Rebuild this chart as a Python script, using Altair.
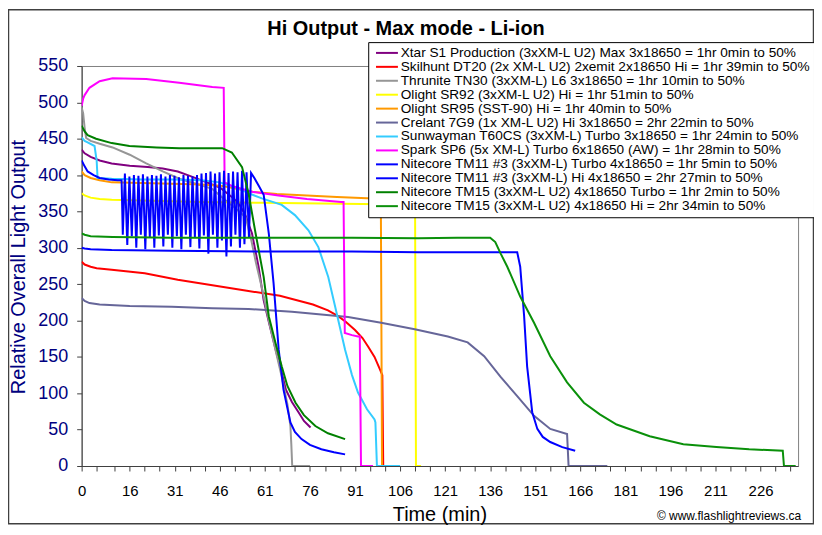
import altair as alt
import pandas as pd

FONT = "Liberation Sans"

TITLE = "Hi Output - Max mode - Li-ion"
X_TITLE = "Time (min)"
Y_TITLE = "Relative Overall Light Output"
CREDIT = "\u00a9 www.flashlightreviews.ca"

NAMES = [
    "Xtar S1 Production (3xXM-L U2) Max 3x18650 = 1hr 0min to 50%",
    "Skilhunt DT20 (2x XM-L U2) 2xemit 2x18650 Hi = 1hr 39min to 50%",
    "Thrunite TN30 (3xXM-L) L6 3x18650 = 1hr 10min to 50%",
    "Olight SR92 (3xXM-L U2) Hi = 1hr 51min to 50%",
    "Olight SR95 (SST-90) Hi = 1hr 40min to 50%",
    "Crelant 7G9 (1x XM-L U2) Hi 3x18650 = 2hr 22min to 50%",
    "Sunwayman T60CS (3xXM-L) Turbo 3x18650 = 1hr 24min to 50%",
    "Spark SP6 (5x XM-L) Turbo 6x18650 (AW) = 1hr 28min to 50%",
    "Nitecore TM11 #3 (3xXM-L) Turbo 4x18650 = 1hr 5min to 50%",
    "Nitecore TM11 #3 (3xXM-L) Hi 4x18650 = 2hr 27min to 50%",
    "Nitecore TM15 (3xXM-L U2) 4x18650 Turbo = 1hr 2min to 50%",
    "Nitecore TM15 (3xXM-L U2) 4x18650 Hi = 2hr 34min to 50%",
]
COLORS = ["#800080", "#FF0000", "#969696", "#FFFF00", "#FF9900", "#666699",
          "#33CCFF", "#FF00FF", "#0000FF", "#0000FF", "#008000", "#0A900A"]

T_XTAR = [0, 1, 3, 6, 10, 16, 22, 27, 32, 36, 41, 46, 50, 52.3, 54.5, 56.7, 58.9, 60.6, 62.5, 64.6, 66.5, 68, 70, 72.2, 74, 76.2]
V_XTAR = [435, 430, 425, 420, 416, 413, 411, 409, 405, 399, 391, 383, 370, 361, 345, 320, 274, 228, 195, 160, 130, 105, 88, 74, 62, 53]

T_DT20 = [0, 1, 3, 5, 10, 21, 32, 43, 55, 66, 77, 82, 85.4, 88, 91, 93.5, 95.4, 97.5, 99.3, 100.1, 100.4]
V_DT20 = [281, 277, 274, 272, 270, 265, 256, 249, 241, 234, 222, 214, 206, 198, 187, 176, 164, 150, 133, 125, 0]

T_TN30 = [0, 0.5, 1, 1.5, 3, 6, 10.3, 16, 21.5, 27, 32.5, 38, 43.5, 48, 51, 54.6, 56.5, 58, 60, 62.3, 64.5, 66.6, 68.5, 69.5, 69.8, 70.1, 76]
V_TN30 = [493, 485, 465, 451, 447, 443, 438, 428, 416, 405, 395, 388, 381, 365, 355, 342, 310, 280, 245, 200, 160, 123, 85, 55, 30, 0, 0]

T_SR92 = [0, 1, 3, 6, 10, 20, 30, 40, 60, 80, 100, 111.0, 111.3, 113]
V_SR92 = [375, 372, 369, 367, 366, 365, 364, 363, 362, 361, 360, 360, 0, 0]

T_SR95 = [0, 1, 3, 6, 10, 20, 30, 40, 47, 52, 57, 65, 75, 85, 95, 99.6, 100.0]
V_SR95 = [405, 400, 396, 393, 390, 389, 388, 387, 385, 381, 377, 374, 372, 370, 368, 368, 0]

T_7G9 = [0, 1, 2.6, 6, 16, 30, 43.5, 55.6, 70, 88.7, 99.7, 110.9, 121.9, 128.5, 134, 139.4, 145, 150.6, 156, 161.6, 162.1, 175]
V_7G9 = [231, 227, 224, 222, 220, 219, 217, 216, 212, 205, 197, 188, 178, 170, 151, 123, 96, 69, 51, 44, 0, 0]

T_T60 = [0, 1, 2, 4.3, 5.0, 5.3, 10, 20, 30, 40, 46, 52, 55.6, 60, 66.6, 71, 75.5, 78.8, 82.1, 84.4, 87.7, 90, 92, 95, 97.5, 97.8, 98.3, 106]
V_T60 = [452, 447, 445, 440, 420, 396, 395, 394, 394, 393, 390, 382, 375, 368, 359, 345, 324, 301, 260, 219, 160, 125, 101, 78, 64, 60, 0, 0]

T_SP6 = [0, 0.5, 1, 2.6, 6, 10.3, 21.5, 32.5, 43.5, 47.3, 47.6, 50, 56.7, 65.5, 75, 86.4, 87.2, 87.6, 90, 92, 92.6, 93, 97]
V_SP6 = [495, 505, 510, 520, 529, 533, 532, 527, 521, 520, 390, 385, 377, 372, 367, 363, 363, 183, 180, 178, 178, 0, 0]

T_TM11T = [0, 1, 2, 4, 6, 9, 12, 13.3,
           13.7, 14.4, 15.2, 15.9, 16.7, 17.4, 18.2, 18.9, 19.7, 20.4,
           21.2, 21.9, 22.7, 23.4, 24.2, 24.9, 25.7, 26.4, 27.2, 27.9,
           28.7, 29.4, 30.2, 30.9, 31.7, 32.4, 33.2, 33.9, 34.7, 35.4,
           36.2, 36.9, 37.7, 38.4, 39.2, 39.9, 40.7, 41.4, 42.2, 42.9,
           43.7, 44.4, 45.2, 45.9, 46.7, 47.4, 48.2, 48.9, 49.7, 50.4,
           51.2, 51.9, 52.7, 53.4, 54.2, 54.9, 55.7, 56.4,
           57.5, 59, 60.6, 62.3, 63.9, 65.6, 67.2, 69.5, 71, 73.2, 76, 79.8, 84, 87.7]
V_TM11T = [420, 412, 405, 400, 396, 394, 393, 393,
           318, 402, 304, 398, 316, 400, 300, 399, 318, 401,
           298, 398, 315, 400, 300, 399, 317, 401, 302, 398,
           318, 400, 300, 399, 316, 397, 298, 400, 318, 399,
           301, 398, 315, 400, 299, 402, 317, 403, 292, 405,
           318, 402, 300, 404, 310, 406, 288, 403, 302, 405,
           318, 404, 300, 406, 305, 404, 315, 403,
           396, 385, 373, 320, 251, 160, 105, 60, 47, 37, 29, 23, 19, 16]

T_TM11H = [0, 1, 3, 10, 30, 60, 90, 112, 130, 145, 146, 147.3, 148.3, 150, 151.7, 153.5, 156, 160, 164.3]
V_TM11H = [300, 299, 298, 297, 296, 295, 295, 294, 294, 294, 274, 206, 137, 74, 51, 40, 33, 26, 21]

T_TM15T = [0, 1, 2, 4.8, 10, 15.9, 25, 32.5, 40, 46.8, 50, 53.4, 55.6, 57.9, 60.6, 62.3, 64.5, 66.6, 68.5, 71.2, 74, 77.8, 82, 87.7]
V_TM15T = [468, 460, 455, 450, 444, 440, 438, 437, 437, 437, 431, 411, 374, 320, 260, 206, 170, 137, 110, 87, 70, 55, 45, 37]

T_TM15H = [0, 1, 3, 10.3, 30, 60, 90, 112, 125, 136, 137.7, 139.5, 141.7, 146, 150.6, 156, 161.6, 167.2, 172.5, 178.1, 189.1, 200.3, 211.3, 222.2, 233.4, 233.8, 237.7]
V_TM15H = [320, 318, 316, 315, 314, 314, 314, 313, 314, 314, 308, 292, 274, 233, 197, 151, 115, 87, 71, 57, 41, 30, 26, 23, 21, 0, 0]

X_LABELS = [0, 16, 31, 46, 61, 76, 91, 106, 121, 136, 151, 166, 181, 196, 211, 226]
X_TICKS = [0, 5, 11, 16, 21, 26, 31, 36, 41, 46, 51, 56, 61, 66, 71, 76, 81, 86, 91, 96,
           101, 106, 111, 116, 121, 126, 131, 136, 141, 146, 151, 156, 161, 166, 171,
           176, 181, 186, 191, 196, 201, 206, 211, 216, 221, 226, 231, 236]
Y_TICKS = [0, 50, 100, 150, 200, 250, 300, 350, 400, 450, 500, 550]

SERIES = [
    (NAMES[0], T_XTAR, V_XTAR), (NAMES[1], T_DT20, V_DT20), (NAMES[2], T_TN30, V_TN30),
    (NAMES[3], T_SR92, V_SR92), (NAMES[4], T_SR95, V_SR95), (NAMES[5], T_7G9, V_7G9),
    (NAMES[6], T_T60, V_T60), (NAMES[7], T_SP6, V_SP6), (NAMES[8], T_TM11T, V_TM11T),
    (NAMES[9], T_TM11H, V_TM11H), (NAMES[10], T_TM15T, V_TM15T), (NAMES[11], T_TM15H, V_TM15H),
]
rows = []
for name, ts, vs in SERIES:
    for i, (t, v) in enumerate(zip(ts, vs)):
        rows.append({"series": name, "t": t, "v": v, "idx": i})
df = pd.DataFrame(rows)

label_expr = "indexof([" + ",".join(str(v) for v in X_LABELS) + "], datum.value) >= 0 ? datum.label : ''"

lines = alt.Chart(df).mark_line(strokeWidth=2, clip=True).encode(
    x=alt.X("t:Q", scale=alt.Scale(domain=[0, 238.5], nice=False, zero=False),
            axis=alt.Axis(values=X_TICKS, labelExpr=label_expr, title=None, grid=False,
                          tickSize=5, labelFontSize=15, labelColor="black", labelFont=FONT,
                          labelPadding=13, labelOverlap=False, labelFlush=False,
                          domainColor="#404040", tickColor="#404040")),
    y=alt.Y("v:Q", scale=alt.Scale(domain=[0, 550], nice=False),
            axis=alt.Axis(values=Y_TICKS, title=None, grid=False, tickSize=5,
                          labelFontSize=18, labelColor="#000080", labelFont=FONT,
                          labelPadding=9, labelOverlap=False,
                          domainColor="#404040", tickColor="#404040")),
    color=alt.Color("series:N", sort=NAMES,
                    scale=alt.Scale(domain=NAMES, range=COLORS),
                    legend=alt.Legend(title=None, orient="none", legendX=288, legendY=-24,
                                      direction="vertical", symbolType="M-2,0L2,0",
                                      symbolSize=121, symbolStrokeWidth=2, symbolOffset=8,
                                      labelOffset=7, labelFont=FONT, labelFontSize=13.7,
                                      labelColor="black", labelLimit=600, rowPadding=-1,
                                      padding=4, strokeColor="black", fillColor="white",
                                      cornerRadius=0)),
    order=alt.Order("idx:Q"),
)

one = pd.DataFrame({"a": [0]})

border = alt.Chart(one).mark_rect(fillOpacity=0, stroke="#404040", strokeWidth=1.5).encode(
    x=alt.value(-73.5), x2=alt.value(735.5), y=alt.value(-56.5), y2=alt.value(460)
)
title = alt.Chart(one).mark_text(font=FONT, fontSize=20, fontWeight="bold", align="center",
                                 baseline="alphabetic", color="black").encode(
    x=alt.value(326), y=alt.value(-31), text=alt.value(TITLE))
credit = alt.Chart(one).mark_text(font=FONT, fontSize=12, align="right",
                                  baseline="alphabetic", color="black").encode(
    x=alt.value(723), y=alt.value(456), text=alt.value(CREDIT))
xtitle = alt.Chart(one).mark_text(font=FONT, fontSize=20, align="center",
                                  baseline="middle", color="black").encode(
    x=alt.value(360), y=alt.value(451), text=alt.value(X_TITLE))
ytitle = alt.Chart(one).mark_text(font=FONT, fontSize=20, align="center", angle=270,
                                  baseline="middle", color="#000080").encode(
    x=alt.value(-63), y=alt.value(202), text=alt.value(Y_TITLE))

chart = alt.layer(border, lines, title, credit, xtitle, ytitle).properties(
    width=720, height=402,
    padding={"left": 74, "top": 57, "right": 16, "bottom": 59},
    autosize=alt.AutoSizeParams(type="none"),
    background="white",
).configure_view(stroke="#808080", strokeWidth=1)

chart.save("out.html", embed_options={"renderer": "svg", "actions": False})
